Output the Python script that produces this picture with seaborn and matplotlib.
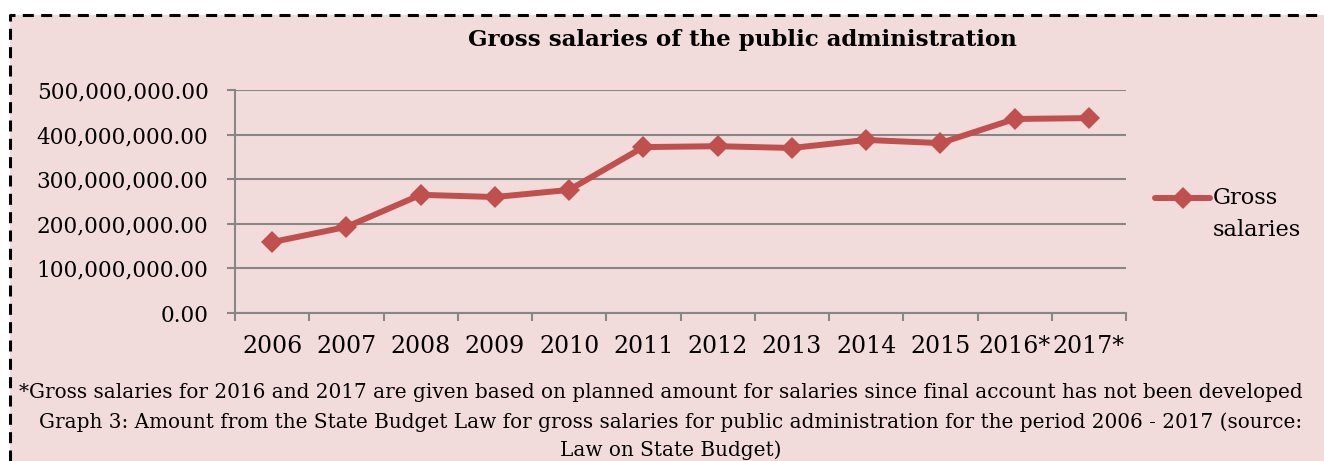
import matplotlib
matplotlib.use("Agg")
import matplotlib.pyplot as plt
import seaborn as sns
import pandas as pd
import numpy as np
from matplotlib.patches import Rectangle
from matplotlib.ticker import FuncFormatter, FixedLocator

years = ["2006", "2007", "2008", "2009", "2010", "2011", "2012", "2013", "2014", "2015", "2016*", "2017*"]
gross_salaries = [159e6, 193e6, 265e6, 260e6, 276e6, 372e6, 374e6, 370e6, 388e6, 381e6, 435e6, 437e6]
yticks = [0, 100e6, 200e6, 300e6, 400e6, 500e6]

title = "Gross salaries of the public administration"
series_name = "Gross salaries"
note1 = "*Gross salaries for 2016 and 2017 are given based on planned amount for salaries since final account has not been developed"
note2 = "Graph 3: Amount from the State Budget Law for gross salaries for public administration for the period 2006 - 2017 (source:"
note3 = "Law on State Budget)"

BG = "#F2DCDB"
RED = "#C0504D"
GRID = "#878787"

sns.set_theme(style="white")
plt.rcParams['font.family'] = ['DejaVu Serif']
plt.rcParams['text.color'] = 'black'

W, H = 1324, 461
fig = plt.figure(figsize=(W / 100, H / 100), dpi=100)
fig.patch.set_facecolor("white")

# background panel
bg = Rectangle((10 / W, 0), 1.0, 1 - 15 / H, transform=fig.transFigure,
               facecolor=BG, edgecolor="none", zorder=-10)
fig.add_artist(bg)
# dashed border (top and left)
fig.add_artist(plt.Line2D([10 / W, 10 / W, 1.0], [0, 1 - 15 / H, 1 - 15 / H], transform=fig.transFigure,
                          color="black", lw=2.2, linestyle=(0, (3.6, 2.4)), zorder=-5))

ax = fig.add_axes([235 / W, (H - 313) / H, 891 / W, 223 / H])
ax.set_facecolor("none")
ax.set_zorder(2)

df = pd.DataFrame({"x": np.arange(len(years)), "value": gross_salaries, "series": series_name})
sns.lineplot(data=df, x="x", y="value", ax=ax, color=RED, lw=4.3, marker="D",
             markersize=11, markeredgecolor=RED, markeredgewidth=0, legend=False)

ax.set_xlim(-0.5, len(years) - 0.5)
ax.set_ylim(0, 500e6)
ax.set_xlabel("")
ax.set_ylabel("")

ax.yaxis.set_major_locator(FixedLocator(yticks))
ax.yaxis.set_major_formatter(FuncFormatter(lambda v, p: f"{v:,.2f}"))
ax.set_xticks(np.arange(len(years)))
ax.set_xticklabels(years)
ax.set_xticks(np.arange(len(years) + 1) - 0.5, minor=True)
ax.tick_params(axis="x", which="major", length=0, pad=16, labelsize=17, labelcolor="black")
ax.tick_params(axis="x", which="minor", length=6, width=1.5, color=GRID, direction="out", bottom=True)
ax.tick_params(axis="y", which="major", length=6, width=1.5, color=GRID, direction="out", left=True,
               labelsize=15.6, pad=13, labelcolor="black")

ax.grid(axis="y", color=GRID, lw=1.5)
ax.set_axisbelow(True)
for s in ["top", "right"]:
    ax.spines[s].set_visible(False)
for s in ["left", "bottom"]:
    ax.spines[s].set_color(GRID)
    ax.spines[s].set_linewidth(1.5)

fig.text(742 / W, 1 - 40 / H, title, ha="center", va="center", fontsize=16.5, fontweight="bold", color="black")

# legend
lx0, lx1, ly = 1155 / W, 1210 / W, 1 - 198 / H
fig.add_artist(plt.Line2D([lx0, lx1], [ly, ly], transform=fig.transFigure, color=RED, lw=4.3))
fig.add_artist(plt.Line2D([(lx0 + lx1) / 2], [ly], transform=fig.transFigure, color=RED, marker="D",
                          markersize=11, markeredgewidth=0))
fig.text(1213 / W, ly, "Gross", ha="left", va="center", fontsize=16.2, color="black")
fig.text(1213 / W, 1 - 230 / H, "salaries", ha="left", va="center", fontsize=16.2, color="black")

fig.text(661 / W, 1 - 393 / H, note1, ha="center", va="center", fontsize=14.4, color="black")
fig.text(671 / W, 1 - 422 / H, note2, ha="center", va="center", fontsize=14.4, color="black")
fig.text(671 / W, 1 - 450 / H, note3, ha="center", va="center", fontsize=14.4, color="black")

fig.savefig("out.png", dpi=100, facecolor=fig.get_facecolor())
